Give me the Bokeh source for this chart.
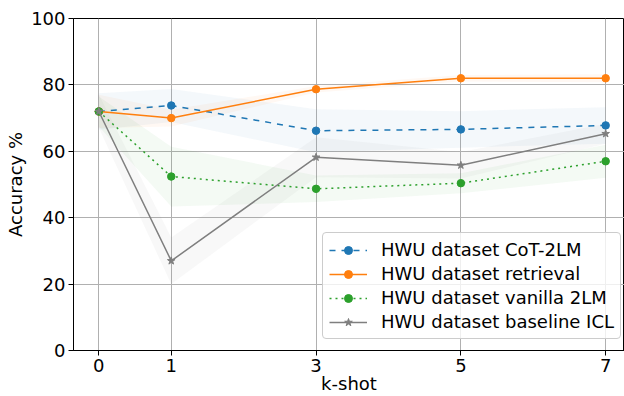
from bokeh.plotting import figure
from bokeh.models import Range1d, Legend, LegendItem, FixedTicker
from bokeh.embed import file_html
from bokeh.resources import INLINE
import numpy as np

shots = [0, 1, 3, 5, 7]
cot = [72.0, 73.8, 66.2, 66.6, 67.8]
cot_std = [5.5, 5.0, 6.5, 5.5, 5.5]
retrieval = [72.0, 70.0, 78.7, 82.0, 82.0]
retrieval_std = [5.0, 2.5, 1.0, 1.0, 1.2]
vanilla = [72.0, 52.4, 48.7, 50.4, 57.0]
vanilla_std = [4.5, 9.0, 4.0, 3.0, 5.0]
baseline = [72.0, 27.0, 58.2, 55.8, 65.3]
baseline_std = [5.0, 7.0, 6.0, 4.0, 3.0]

labels = ["HWU dataset CoT-2LM", "HWU dataset retrieval",
          "HWU dataset vanilla 2LM", "HWU dataset baseline ICL"]
colors = ["#1f77b4", "#ff7f0e", "#2ca02c", "#7f7f7f"]
dashes = ["dashed", "solid", "dotted", "solid"]
markers = ["circle", "circle", "circle", "star"]
series = [cot, retrieval, vanilla, baseline]
stds = [cot_std, retrieval_std, vanilla_std, baseline_std]

FONT = "DejaVu Sans"

p = figure(width=624, height=396, output_backend="svg", toolbar_location=None,
           x_range=Range1d(-0.35, 7.26), y_range=Range1d(0, 100),
           min_border_left=73, min_border_top=18, min_border_right=0, min_border_bottom=45)

p.outline_line_color = "black"
p.outline_line_width = 1
for ax in (p.xaxis[0], p.yaxis[0]):
    ax.axis_line_color = "black"
    ax.major_tick_line_color = "black"
    ax.major_tick_out = 5
    ax.major_tick_in = 0
    ax.minor_tick_line_color = None
    ax.major_label_text_font = FONT
    ax.major_label_text_font_size = "18px"
    ax.major_label_text_color = "black"
    ax.major_label_standoff = 3
    ax.axis_label_text_font = FONT
    ax.axis_label_text_font_size = "18px"
    ax.axis_label_text_font_style = "normal"
    ax.axis_label_text_color = "black"

p.xaxis.ticker = FixedTicker(ticks=shots)
p.yaxis.ticker = FixedTicker(ticks=[0, 20, 40, 60, 80, 100])
p.xaxis.axis_label = "k-shot"
p.yaxis.axis_label = "Accuracy %"
p.xaxis.axis_label_standoff = -2
p.yaxis.axis_label_standoff = 2
p.xgrid.grid_line_color = "#b0b0b0"
p.ygrid.grid_line_color = "#b0b0b0"
p.xgrid.grid_line_width = 1
p.ygrid.grid_line_width = 1

items = []
for col, ys, sd in zip(colors, series, stds):
    ys = np.array(ys)
    sd = np.array(sd)
    p.varea(x=shots, y1=ys - sd, y2=ys + sd, fill_color=col, fill_alpha=0.05)
for lab, col, dash, mk, ys in zip(labels, colors, dashes, markers, series):
    r1 = p.line(shots, ys, line_color=col, line_dash=dash, line_width=1.5)
    if mk == "star":
        r2 = p.scatter(shots, ys, marker="star", size=8, fill_color=col, line_color=col)
    else:
        r2 = p.scatter(shots, ys, marker="circle", size=7.5, fill_color=col, line_color=col)
    items.append(LegendItem(label=lab, renderers=[r1, r2]))

legend = Legend(items=items, location=(249, 11))
legend.label_text_font = FONT
legend.label_text_font_size = "18px"
legend.label_text_color = "black"
legend.glyph_width = 38
legend.glyph_height = 20
legend.label_height = 20
legend.label_standoff = 14
legend.spacing = 3
legend.padding = 6
legend.margin = 0
legend.border_line_color = "#cccccc"
legend.border_line_alpha = 1
legend.border_radius = 4
legend.background_fill_alpha = 0.8
p.add_layout(legend)

open("out.html", "w").write(file_html(p, INLINE))
